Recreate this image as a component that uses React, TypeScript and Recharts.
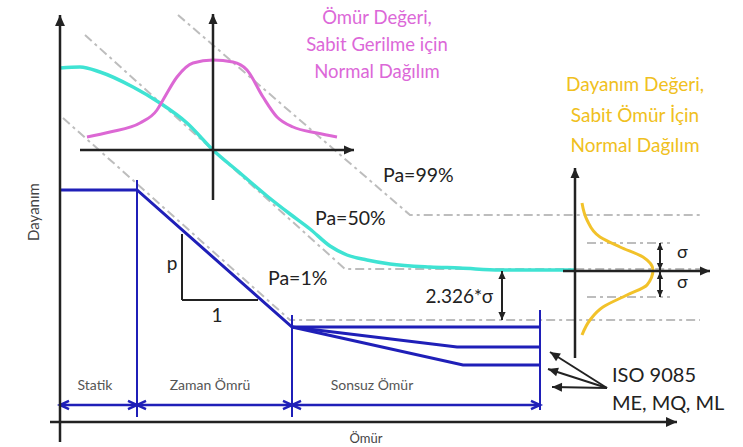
import React from "react";
import { ComposedChart, Line, XAxis, YAxis, ReferenceLine, ReferenceDot } from "recharts";

// schematic units: life along x (0 at the strength axis), strength along y (0 at the life axis)
const medianLife = [0, 20, 40, 73, 100, 127, 153, 180, 207, 230, 250, 270, 287, 307, 330, 370, 400, 440, 515];
const medianStrength = [354, 355, 350, 335, 319, 299, 272, 249, 226, 208, 193, 176, 167, 162, 158, 155, 154, 152, 152];

const lifeDistX = [27, 50, 80, 97, 103, 117, 133, 153, 173, 187, 203, 217, 233, 257, 277];
const lifeDistY = [285, 290, 299, 312, 322, 345, 359, 362, 360, 352, 325, 305, 295, 289, 285];

const strengthDistX = [522, 527, 540, 560, 583, 593, 587, 567, 543, 530, 522];
const strengthDistY = [219, 202, 185, 175, 165, 152, 137, 127, 115, 102, 87];

const pa99X = [118, 350, 640];
const pa99Y = [407, 207, 207];
const pa50X = [25, 285, 640];
const pa50Y = [387, 153, 153];
const pa1X = [3, 230, 640];
const pa1Y = [304, 102, 102];

const meX = [0, 77, 232, 480];
const meY = [232, 232, 95, 95];
const mqX = [232, 397, 480];
const mqY = [95, 75, 75];
const mlX = [232, 403, 480];
const mlY = [95, 57, 57];

const regionBounds = [0, 77, 232, 480];
const regionNames = ["Statik", "Zaman Ömrü", "Sonsuz Ömür"];
const sigmaLevels = [179, 152, 125];

const pts = (xs: number[], ys: number[]) => xs.map((x, i) => ({ x, y: ys[i] }));

const FONT = "Lato, 'Open Sans', sans-serif";
const BLUE = "#1f1fb8";
const INK = "#222";
const GRAY = "#bdbdbd";

const head = (tx: number, ty: number, fx: number, fy: number, len: number, w: number, color: string, open: boolean, sw: number) => {
  const d = Math.hypot(tx - fx, ty - fy) || 1;
  const ux = (tx - fx) / d;
  const uy = (ty - fy) / d;
  const bx = tx - ux * len;
  const by = ty - uy * len;
  const px = -uy * w;
  const py = ux * w;
  const p = `${bx + px},${by + py} ${tx},${ty} ${bx - px},${by - py}`;
  return open ? (
    <polyline points={p} fill="none" stroke={color} strokeWidth={sw} strokeLinejoin="miter" />
  ) : (
    <polygon points={p} fill={color} />
  );
};

type ArrowOpts = { start?: boolean; end?: boolean; open?: boolean; color?: string; width?: number; size?: number };

const arrowShape = ({ start = false, end = true, open = false, color = INK, width = 2, size = 9 }: ArrowOpts) =>
  (p: any) => {
    const { x1, y1, x2, y2 } = p;
    return (
      <g>
        <line x1={x1} y1={y1} x2={x2} y2={y2} stroke={color} strokeWidth={width} />
        {end && head(x2, y2, x1, y1, size, size * 0.45, color, open, width)}
        {start && head(x1, y1, x2, y2, size, size * 0.45, color, open, width)}
      </g>
    );
  };

const arrow = (key: string, a: [number, number], b: [number, number], opts: ArrowOpts) => (
  <ReferenceLine
    key={key}
    segment={[{ x: a[0], y: a[1] }, { x: b[0], y: b[1] }]}
    ifOverflow="visible"
    shape={arrowShape(opts)}
  />
);

const seg = (key: string, a: [number, number], b: [number, number], color: string, width: number, dash?: string) => (
  <ReferenceLine
    key={key}
    segment={[{ x: a[0], y: a[1] }, { x: b[0], y: b[1] }]}
    ifOverflow="visible"
    stroke={color}
    strokeWidth={width}
    strokeDasharray={dash}
  />
);

const note = (key: string, x: number, y: number, lines: string[], style: any, lineHeight = 0, rotate = 0) => (
  <ReferenceDot
    key={key}
    x={x}
    y={y}
    r={0}
    ifOverflow="visible"
    shape={(p: any) => (
      <text
        x={p.cx}
        y={p.cy}
        fontFamily={FONT}
        transform={rotate ? `rotate(${rotate} ${p.cx} ${p.cy})` : undefined}
        {...style}
      >
        {lines.map((l, i) => (
          <tspan key={i} x={p.cx} dy={i === 0 ? 0 : lineHeight}>
            {l}
          </tspan>
        ))}
      </text>
    )}
  />
);

const line = (data: any[], color: string, width: number, type: any = "linear", dash?: string) => (
  <Line
    data={data}
    dataKey="y"
    type={type}
    stroke={color}
    strokeWidth={width}
    strokeDasharray={dash}
    dot={false}
    activeDot={false}
    isAnimationActive={false}
    legendType="none"
  />
);

export default function App() {
  const grayDash = "9 4 3 4";
  return (
    <div style={{ position: "absolute", left: 0, top: 0, width: 743, height: 447, background: "#fff" }}>
      <ComposedChart width={743} height={447} margin={{ top: 0, right: 0, bottom: 0, left: 0 }}>
        <XAxis type="number" dataKey="x" domain={[-60, 683]} hide allowDataOverflow />
        <YAxis type="number" domain={[-25, 422]} hide allowDataOverflow />

        {line(pts(pa99X, pa99Y), GRAY, 2, "linear", grayDash)}
        {line(pts(pa50X, pa50Y), GRAY, 2, "linear", grayDash)}
        {line(pts(pa1X, pa1Y), GRAY, 2, "linear", grayDash)}
        {seg("s-up", [527, sigmaLevels[0]], [610, sigmaLevels[0]], GRAY, 2, grayDash)}
        {seg("s-dn", [527, sigmaLevels[2]], [610, sigmaLevels[2]], GRAY, 2, grayDash)}

        {line(pts(medianLife, medianStrength), "#3fe3d3", 3.5, "monotone")}
        {line(pts(lifeDistX, lifeDistY), "#dc68d4", 3, "monotone")}
        {line(pts(strengthDistX, strengthDistY), "#f2c22a", 3, "monotoneY")}

        {line(pts(meX, meY), BLUE, 3)}
        {line(pts(mqX, mqY), BLUE, 3)}
        {line(pts(mlX, mlY), BLUE, 3)}
        {seg("v1", [regionBounds[1], 242], [regionBounds[1], 5], BLUE, 2)}
        {seg("v2", [regionBounds[2], 107], [regionBounds[2], 5], BLUE, 2)}
        {seg("v3", [regionBounds[3], 112], [regionBounds[3], 12], BLUE, 2)}
        {regionNames.map((_, i) =>
          arrow(`dim${i}`, [regionBounds[i], 17], [regionBounds[i + 1], 17], {
            start: true,
            end: true,
            open: true,
            color: BLUE,
            width: 2.5,
            size: 9,
          })
        )}

        {/* main axes */}
        {arrow("ax-y", [0, -20], [0, 407], { width: 2.5, size: 11 })}
        {arrow("ax-x", [-10, 0], [617, 0], { width: 2.5, size: 11 })}
        {/* life distribution axes */}
        {arrow("lx", [20, 272], [294, 272], { width: 2.5, size: 10 })}
        {arrow("ly", [153, 222], [153, 408], { width: 2.5, size: 10 })}
        {/* strength distribution axes */}
        {arrow("sy", [515, 64], [515, 254], { width: 2.5, size: 10 })}
        {arrow("sx", [503, 151], [650, 151], { width: 2.5, size: 10 })}

        {seg("tri-v", [122, 188], [122, 122], INK, 2)}
        {seg("tri-h", [122, 122], [198, 122], INK, 2)}

        {arrow("k", [442, 151], [442, 102], { start: true, end: true, width: 2, size: 8 })}
        {arrow("sg1", [600, sigmaLevels[0]], [600, sigmaLevels[1]], { start: true, end: true, width: 2, size: 7 })}
        {arrow("sg2", [600, sigmaLevels[1] - 2], [600, sigmaLevels[2]], { start: true, end: true, width: 2, size: 7 })}

        {arrow("iso1", [547, 34], [490, 70], { width: 2, size: 10 })}
        {arrow("iso2", [547, 34], [488, 53], { width: 2, size: 10 })}
        {arrow("iso3", [547, 34], [492, 35], { width: 2, size: 10 })}

        {note("t-life", 317, 398, ["Ömür Değeri,", "Sabit Gerilme için", "Normal Dağılım"], { fontSize: 18.5, fill: "#dc68d8", textAnchor: "middle" }, 27)}
        {note("t-str", 575, 331, ["Dayanım Değeri,", "Sabit Ömür İçin", "Normal Dağılım"], { fontSize: 19, fill: "#f0c020", textAnchor: "middle" }, 30.5)}
        {note("pa99", 323, 240, ["Pa=99%"], { fontSize: 19.5, fill: INK })}
        {note("pa50", 255, 197, ["Pa=50%"], { fontSize: 19.5, fill: INK })}
        {note("pa1", 208, 137, ["Pa=1%"], { fontSize: 19.5, fill: INK })}
        {note("p", 112, 152, ["p"], { fontSize: 19, fill: INK, textAnchor: "middle" })}
        {note("one", 157, 100, ["1"], { fontSize: 19, fill: INK, textAnchor: "middle" })}
        {note("k-lab", 433, 119, ["2.326*σ"], { fontSize: 19, fill: INK, textAnchor: "end" })}
        {note("sig1", 617, 164, ["σ"], { fontSize: 18, fill: INK })}
        {note("sig2", 617, 134, ["σ"], { fontSize: 18, fill: INK })}
        {note("iso", 552, 40, ["ISO 9085", "ME, MQ, ML"], { fontSize: 20, fill: INK }, 28)}
        {note("r0", 35, 32, [regionNames[0]], { fontSize: 14, fill: "#555", textAnchor: "middle" })}
        {note("r1", 150, 32, [regionNames[1]], { fontSize: 14, fill: "#555", textAnchor: "middle" })}
        {note("r2", 312, 32, [regionNames[2]], { fontSize: 14, fill: "#555", textAnchor: "middle" })}
        {note("ylab", -27, 210, ["Dayanım"], { fontSize: 15, fill: "#444", textAnchor: "middle", dominantBaseline: "central" }, 0, -90)}
        {note("xlab", 306, -21, ["Ömür"], { fontSize: 13, fill: "#444", textAnchor: "middle" })}
      </ComposedChart>
    </div>
  );
}
